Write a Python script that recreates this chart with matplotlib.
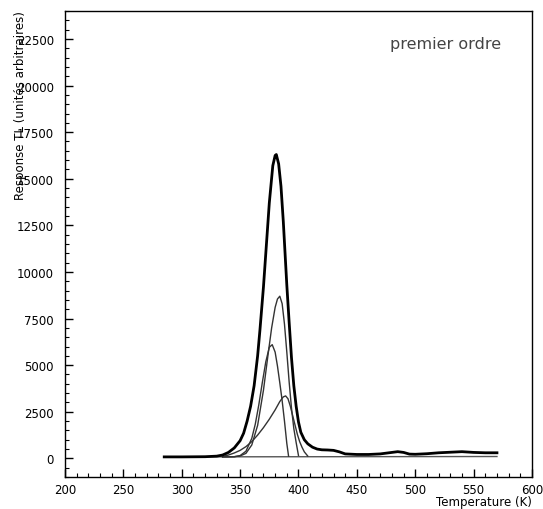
import matplotlib.pyplot as plt
import numpy as np
from matplotlib.ticker import MultipleLocator

# courbe de thermoluminescence mesuree
T_mes = [285, 300, 320, 330, 335, 340, 345, 350, 353, 356, 359, 362, 365, 367, 370,
         372, 375, 378, 380, 381, 383, 385, 387, 390, 392, 394, 396, 398, 400, 402,
         405, 408, 412, 416, 420, 425, 430, 435, 440, 450, 460, 470, 480, 485, 490,
         495, 500, 510, 520, 530, 540, 550, 560, 570]
R_mes = [80, 80, 90, 120, 180, 320, 560, 950, 1350, 2000, 2800, 3900, 5500, 6900, 9200,
         11000, 13700, 15700, 16250, 16300, 15800, 14600, 12700, 9300, 7300, 5400, 3900, 2800, 1950, 1400,
         1000, 780, 600, 500, 460, 450, 430, 350, 240, 210, 210, 240, 320, 360, 320,
         230, 220, 250, 300, 330, 360, 320, 300, 300]

# pics du premier ordre
T_pic1 = [335, 345, 350, 355, 360, 363, 366, 369, 372, 375, 377.5, 380, 382, 384, 386, 388, 390, 391.5]
R_pic1 = [80, 90, 150, 385, 1075, 1840, 2870, 4060, 5180, 5960, 6100, 5700, 4950, 4050, 3100, 2000, 800, 120]

T_pic2 = [335, 345, 350, 355, 360, 365, 370, 374, 377, 380, 382, 384, 386, 388, 390, 392, 394, 396, 398, 400]
R_pic2 = [80, 90, 130, 270, 720, 1770, 3660, 5600, 7000, 8100, 8550, 8700, 8300, 7200, 5700, 4100, 2700, 1600, 850, 150]

T_pic3 = [335, 340, 345, 350, 355, 360, 365, 370, 375, 380, 384, 387, 389, 391, 393, 395, 397, 399, 401, 403, 405, 408]
R_pic3 = [100, 180, 290, 430, 630, 900, 1250, 1650, 2100, 2600, 3050, 3300, 3350, 3200, 2800, 2300, 1800, 1300, 900, 600, 350, 120]

# fond continu
T_fond = [285, 570]
R_fond = [80, 100]

fig = plt.figure(figsize=(5.43, 5.10), dpi=100)
ax = fig.add_axes([0.1197, 0.0627, 0.86, 0.9138])

ax.plot(T_fond, R_fond, color='#555555', lw=1.0)
for T, R in [(T_pic1, R_pic1), (T_pic2, R_pic2), (T_pic3, R_pic3)]:
    ax.plot(T, R, color='#333333', lw=1.0)
ax.plot(T_mes, R_mes, color='black', lw=2.0)

ax.set_xlim(200, 600)
ax.set_ylim(-1000, 24000)

ax.xaxis.set_major_locator(MultipleLocator(50))
ax.xaxis.set_minor_locator(MultipleLocator(10))
ax.yaxis.set_major_locator(MultipleLocator(2500))
ax.yaxis.set_minor_locator(MultipleLocator(500))

ax.tick_params(axis='both', which='both', direction='in', top=False, right=False)
ax.tick_params(axis='both', which='major', length=6, width=1, labelsize=8.5)
ax.tick_params(axis='both', which='minor', length=3, width=0.8)
ax.tick_params(axis='y', which='major', pad=8)
ax.tick_params(axis='x', which='major', pad=4)

for s in ax.spines.values():
    s.set_linewidth(1.0)

# l'etiquette de l'axe y chevauche les graduations
ax.text(-0.096, 0.80, 'Response TL (unités arbitraires)', transform=ax.transAxes,
        rotation=90, ha='center', va='center', fontsize=8.5)
ax.text(1.0, -0.0515, 'Temperature (K)', transform=ax.transAxes,
        ha='right', va='center', fontsize=8.5)
ax.text(0.695, 0.93, 'premier ordre', transform=ax.transAxes,
        ha='left', va='center', fontsize=11.5, color='#444444')

fig.savefig('out.png', dpi=100)
